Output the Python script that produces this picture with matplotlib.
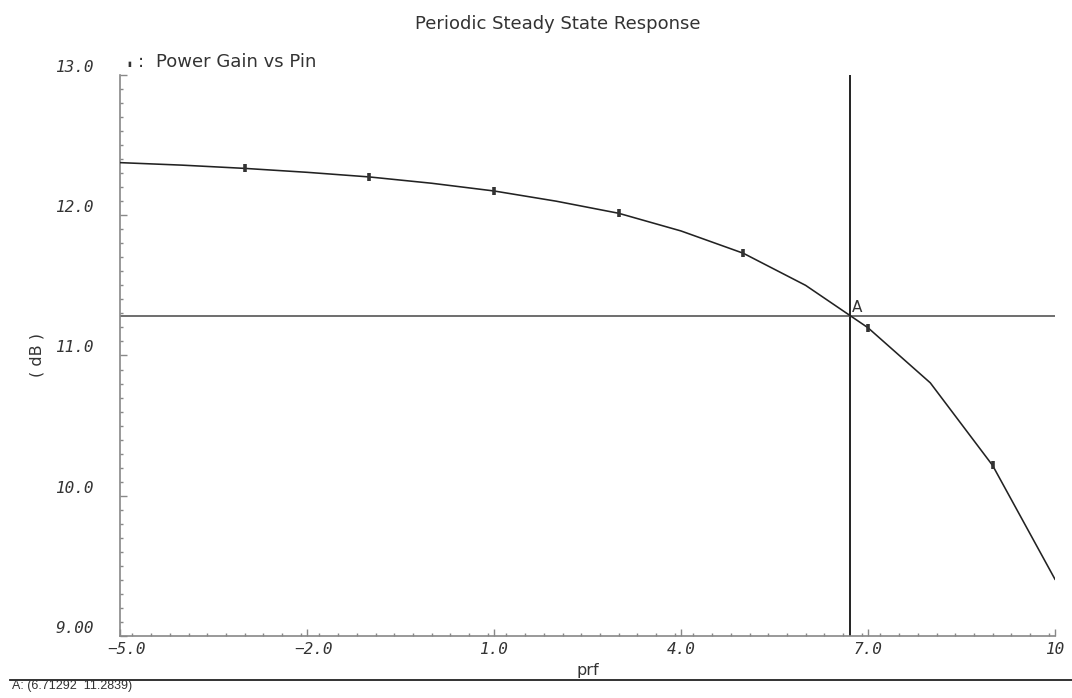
import matplotlib
matplotlib.use("Agg")
import matplotlib.pyplot as plt
from matplotlib.ticker import FixedLocator, FixedFormatter, MultipleLocator
from matplotlib.transforms import ScaledTranslation

# Power gain (dB) versus input power sweep (prf)
prf = [-5, -4, -3, -2, -1, 0, 1, 2, 3, 4, 5, 6, 7, 8, 9, 10]
gain_db = [12.375, 12.357, 12.334, 12.306, 12.273, 12.228, 12.173, 12.100,
           12.014, 11.888, 11.729, 11.500, 11.198, 10.805, 10.216, 9.405]
marker_prf = [-3, -1, 1, 3, 5, 7, 9]

# Cursor A
cursor_x = 6.71292
cursor_y = 11.2839

x_ticks = [-5.0, -2.0, 1.0, 4.0, 7.0, 10.0]
x_tick_labels = ["\u22125.0", "\u22122.0", "1.0", "4.0", "7.0", "10"]
y_ticks = [9.0, 10.0, 11.0, 12.0, 13.0]
y_tick_labels = ["9.00", "10.0", "11.0", "12.0", "13.0"]

title = "Periodic Steady State Response"
series_label = "Power Gain vs Pin"
x_label = "prf"
y_label = "( dB )"

fig = plt.figure(figsize=(10.72, 6.98), dpi=100)
ax = fig.add_axes([0.1119, 0.0888, 0.8722, 0.8038])

ax.plot(prf, gain_db, color="#222222", lw=1.15, zorder=3)
mk_y = [gain_db[prf.index(p)] for p in marker_prf]
ax.plot(marker_prf, mk_y, ls="none", marker="|", ms=6, mew=2.6,
        color="#333333", zorder=4)

# cursor crosshair
ax.axvline(cursor_x, color="#111111", lw=1.3, zorder=2)
ax.axhline(cursor_y, color="#555555", lw=1.2, zorder=2)
ax.annotate("A", (cursor_x, cursor_y), xytext=(1, 3), textcoords="offset points",
            fontsize=11, color="#333333", family="DejaVu Sans")

ax.set_xlim(-5, 10)
ax.set_ylim(9, 13)

for s in ("top", "right"):
    ax.spines[s].set_visible(False)
for s in ("left", "bottom"):
    ax.spines[s].set_color("#888888")
    ax.spines[s].set_linewidth(1.2)

ax.xaxis.set_major_locator(FixedLocator(x_ticks))
ax.xaxis.set_major_formatter(FixedFormatter(x_tick_labels))
ax.xaxis.set_minor_locator(MultipleLocator(0.3))
ax.yaxis.set_major_locator(FixedLocator(y_ticks))
ax.yaxis.set_major_formatter(FixedFormatter(y_tick_labels))
ax.yaxis.set_minor_locator(MultipleLocator(0.1))

ax.tick_params(which="both", direction="in", color="#888888", width=1.0)
ax.tick_params(which="major", length=5)
ax.tick_params(which="minor", length=2.5)
ax.tick_params(axis="x", which="major", pad=4, labelsize=11.5, labelcolor="#333333")
ax.tick_params(axis="y", which="major", pad=19, labelsize=11.5, labelcolor="#333333")
for lab in ax.get_xticklabels() + ax.get_yticklabels():
    lab.set_family("DejaVu Sans Mono")
    lab.set_style("oblique")
for lab in ax.get_yticklabels():
    lab.set_verticalalignment("bottom")
# negative labels are centred on their digits
shift = ScaledTranslation(7 / 100, 0, fig.dpi_scale_trans)
for lab, txt in zip(ax.get_xticklabels(), x_tick_labels):
    if txt.startswith("\u2212"):
        lab.set_transform(lab.get_transform() + shift)

fig.text(0.5205, 0.9656, title, ha="center", va="center", fontsize=13,
         color="#333333")
fig.text(0.548, 0.040, x_label, ha="center", va="center", fontsize=11.5,
         color="#333333")
fig.text(0.0345, 0.492, y_label, ha="center", va="center", rotation=90,
         fontsize=11.5, color="#333333")

# legend entry
fig.text(0.1204, 0.909, "\u25AE", ha="center", va="center", fontsize=5,
         color="#333333")
fig.text(0.1315, 0.911, ":", ha="center", va="center", fontsize=13,
         color="#333333")
fig.text(0.1455, 0.911, series_label, ha="left", va="center",
         fontsize=13, color="#333333")

# cursor readout below the plot
fig.add_artist(plt.Line2D([0.009, 1.0], [0.0258, 0.0258], color="#222222",
                          lw=1.3, transform=fig.transFigure))
fig.text(0.011, 0.0175, "A: (6.71292  11.2839)", ha="left", va="center",
         fontsize=9, family="Liberation Sans", color="#333333")

fig.savefig("out.png", dpi=100)
